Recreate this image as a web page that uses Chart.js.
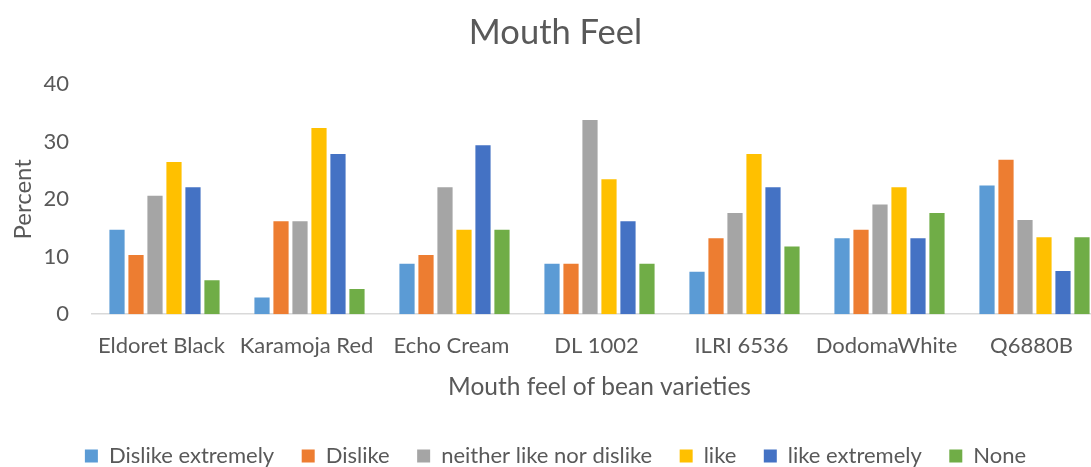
<!DOCTYPE html>
<html>
<head>
<meta charset="utf-8">
<script src="https://cdn.jsdelivr.net/npm/chart.js@4/dist/chart.umd.min.js"></script>
<style>
  html, body { margin: 0; padding: 0; background: #ffffff; overflow: hidden; }
  #wrap { width: 1110px; height: 467px; position: relative; }
</style>
</head>
<body>
<div id="wrap"><canvas id="c"></canvas></div>
<script>
// Bean varieties on the x axis
const categories = ['Eldoret Black', 'Karamoja Red', 'Echo Cream', 'DL 1002', 'ILRI 6536', 'DodomaWhite', 'Q6880B'];

// Percent of panellists per mouth-feel rating
const dislikeExtremely = [14.7, 2.9, 8.8, 8.8, 7.4, 13.2, 22.4];
const dislike          = [10.3, 16.2, 10.3, 8.8, 13.2, 14.7, 26.9];
const neitherLike      = [20.6, 16.2, 22.1, 33.8, 17.6, 19.1, 16.4];
const like             = [26.5, 32.4, 14.7, 23.5, 27.9, 22.1, 13.4];
const likeExtremely    = [22.1, 27.9, 29.4, 16.2, 22.1, 13.2, 7.5];
const noneRating       = [5.9, 4.4, 14.7, 8.8, 11.8, 17.6, 13.4];

const seriesNames = ['Dislike extremely', 'Dislike', 'neither like nor dislike', 'like', 'like extremely', 'None'];
const yTicks = [0, 10, 20, 30, 40];

const palette = ['#5B9BD5', '#ED7D31', '#A5A5A5', '#FFC000', '#4472C4', '#70AD47'];
const seriesValues = [dislikeExtremely, dislike, neitherLike, like, likeExtremely, noneRating];

const textColor = '#595959';
const family = 'Lato, "Open Sans", sans-serif';

const datasets = seriesNames.map((name, i) => ({
  label: name,
  data: seriesValues[i],
  backgroundColor: palette[i],
  borderWidth: 0,
  categoryPercentage: 0.786,
  barPercentage: 0.8
}));

new Chart(document.getElementById('c'), {
  type: 'bar',
  data: { labels: categories, datasets },
  options: {
    responsive: true,
    maintainAspectRatio: false,
    animation: false,
    layout: { padding: { left: 4, right: 3, top: 12, bottom: -10 } },
    plugins: {
      tooltip: { enabled: false },
      title: {
        display: true,
        text: 'Mouth Feel',
        color: textColor,
        font: { family, size: 34.5, weight: 'normal' },
        padding: { top: 0, bottom: 31 }
      },
      legend: {
        position: 'bottom',
        labels: {
          color: textColor,
          font: { family, size: 22 },
          boxWidth: 13,
          boxHeight: 13,
          padding: 27.5
        }
      }
    },
    scales: {
      x: {
        grid: { display: false, drawTicks: false },
        border: { display: true, color: '#D9D9D9', width: 1.5 },
        ticks: { color: textColor, font: { family, size: 22 }, padding: 19, maxRotation: 0, labelOffset: -3 },
        title: {
          display: true,
          text: 'Mouth feel of bean varieties',
          color: textColor,
          font: { family, size: 24.5 },
          padding: { top: -6, bottom: 15.5 }
        }
      },
      y: {
        min: 0,
        max: 40,
        afterBuildTicks: (scale) => { scale.ticks = yTicks.map(v => ({ value: v })); },
        afterFit: (scale) => { scale.width = 88; },
        grid: { display: false, drawTicks: false },
        border: { display: false },
        ticks: { color: textColor, font: { family, size: 22 }, padding: 23 },
        title: {
          display: true,
          text: 'Percent',
          color: textColor,
          font: { family, size: 24 },
          padding: { top: 5, bottom: 0 }
        }
      }
    }
  }
});
</script>
</body>
</html>
